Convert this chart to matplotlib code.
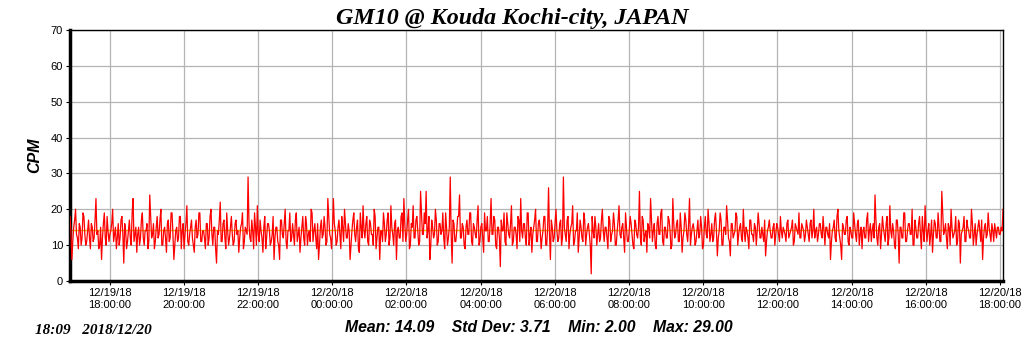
import pandas as pd
import numpy as np
import matplotlib
matplotlib.use("Agg")
import matplotlib.pyplot as plt

# CPM readings: main samples every 3 minutes from 16:56 on 12/19/18
cpm = [
    18, 6, 15, 20, 12, 16, 10, 19, 13, 11, 17, 9, 15, 12, 23, 14, 10, 6, 16, 12, 18, 11, 14, 20,
    13, 9, 16, 12, 18, 5, 14, 11, 17, 10, 23, 13, 8, 15, 12, 19, 10, 14, 9, 24, 12, 16, 11, 18,
    13, 20, 10, 15, 8, 17, 12, 19, 6, 14, 11, 18, 9, 16, 13, 21, 10, 15, 12, 8, 17, 13, 19, 11,
    14, 9, 16, 12, 20, 10, 15, 5, 13, 22, 11, 17, 9, 14, 12, 18, 10, 16, 13, 8, 15, 19, 11, 14,
    29, 12, 17, 9, 15, 21, 11, 14, 8, 18, 12, 16, 10, 13, 6, 15, 11, 6, 17, 12, 20, 9, 14, 11,
    16, 10, 19, 13, 8, 15, 12, 18, 10, 14, 20, 11, 16, 9, 6, 15, 12, 18, 10, 23, 13, 9, 23, 14,
    11, 17, 9, 15, 20, 12, 16, 6, 14, 19, 11, 17, 8, 15, 21, 12, 18, 10, 16, 13, 20, 9, 15, 6,
    14, 19, 11, 17, 10, 21, 13, 16, 6, 15, 12, 19, 23, 11, 17, 9, 16, 21, 12, 18, 10, 25, 13, 19,
    25, 14, 6, 17, 12, 20, 10, 16, 13, 19, 9, 15, 12, 29, 5, 16, 11, 18, 24, 12, 15, 9, 17, 13,
    19, 10, 15, 12, 21, 11, 16, 8, 14, 18, 11, 23, 13, 17, 9, 15, 4, 14, 19, 10, 16, 12, 21, 11,
    15, 9, 17, 23, 12, 16, 10, 19, 13, 8, 15, 20, 11, 17, 9, 14, 18, 10, 26, 6, 15, 12, 20, 11,
    16, 10, 29, 13, 17, 9, 15, 21, 11, 14, 8, 17, 12, 19, 10, 15, 13, 2, 14, 18, 10, 16, 12, 20,
    11, 15, 9, 17, 13, 19, 10, 14, 21, 12, 16, 8, 15, 11, 18, 13, 9, 16, 12, 25, 10, 17, 13, 8,
    15, 23, 11, 16, 9, 18, 13, 20, 10, 15, 12, 17, 9, 23, 12, 16, 11, 19, 8, 14, 17, 11, 23, 13,
    16, 10, 14, 12, 18, 9, 15, 13, 20, 11, 16, 12, 19, 7, 14, 17, 10, 15, 21, 12, 7, 16, 13, 19,
    10, 15, 12, 20, 11, 14, 9, 17, 13, 16, 10, 19, 12, 15, 11, 7, 14, 17, 12, 15, 10, 16, 13, 18,
    12, 14, 11, 17, 13, 15, 10, 16, 14, 19, 12, 15, 11, 17, 13, 16, 12, 20, 14, 11, 16, 13, 18, 10,
    15, 12, 6, 14, 17, 11, 20, 12, 6, 15, 13, 18, 10, 14, 12, 16, 11, 17, 13, 9, 15, 12, 19, 14,
    11, 16, 24, 12, 15, 9, 18, 13, 16, 10, 21, 12, 14, 9, 17, 5, 15, 12, 19, 11, 16, 13, 20, 10,
    15, 12, 18, 9, 14, 21, 11, 16, 13, 8, 17, 12, 19, 11, 25, 13, 16, 9, 15, 20, 12, 14, 10, 17,
    5, 14, 18, 11, 15, 12, 20, 10, 16, 13, 17, 11, 6, 15, 12, 19, 13, 16, 11, 14, 15, 13, 15, 20,
]
# in-between samples (1.5 minutes after each main sample)
cpm_mid = [
    14, 11, 17, 13, 9, 15, 12, 18, 10, 14, 12, 16, 11, 17, 13, 9, 15, 12, 19, 10, 14, 13, 16, 11,
    15, 12, 10, 17, 13, 16, 9, 14, 12, 19, 11, 15, 13, 10, 17, 12, 14, 16, 11, 18, 13, 9, 15, 12,
    17, 10, 14, 12, 16, 11, 19, 13, 10, 15, 12, 18, 14, 9, 16, 11, 13, 17, 10, 15, 12, 19, 11, 14,
    12, 16, 10, 18, 13, 15, 9, 14, 17, 11, 16, 12, 19, 10, 15, 13, 11, 17, 14, 12, 16, 9, 15, 13,
    16, 11, 14, 19, 10, 13, 17, 12, 15, 9, 16, 14, 11, 18, 12, 15, 10, 17, 13, 16, 11, 14, 19, 12,
    13, 17, 11, 15, 12, 18, 10, 16, 13, 11, 19, 14, 12, 16, 10, 17, 13, 15, 11, 18, 12, 14, 16, 10,
    15, 13, 18, 11, 16, 12, 14, 10, 17, 13, 15, 9, 19, 12, 14, 16, 11, 17, 13, 10, 18, 12, 15, 14,
    11, 16, 13, 19, 12, 15, 10, 17, 14, 12, 18, 11, 16, 13, 20, 10, 15, 12, 17, 14, 11, 19, 13, 16,
    12, 18, 10, 15, 13, 17, 11, 16, 14, 12, 19, 10, 15, 13, 17, 11, 14, 18, 12, 16, 10, 15, 13, 19,
    11, 16, 13, 17, 10, 15, 12, 19, 14, 11, 16, 13, 18, 10, 15, 12, 17, 14, 11, 19, 13, 16, 10, 15,
    13, 18, 11, 14, 16, 12, 19, 10, 15, 13, 17, 11, 16, 14, 12, 18, 10, 15, 13, 17, 11, 16, 14, 12,
    17, 12, 15, 11, 18, 13, 16, 10, 14, 19, 12, 15, 11, 17, 13, 16, 10, 18, 12, 15, 13, 11, 17, 14,
    15, 12, 18, 11, 14, 16, 10, 17, 13, 15, 12, 19, 11, 14, 16, 10, 17, 13, 15, 12, 18, 11, 14, 16,
    12, 17, 14, 10, 16, 13, 19, 11, 15, 12, 18, 14, 10, 16, 13, 17, 11, 15, 12, 19, 13, 16, 10, 15,
    14, 11, 17, 13, 15, 10, 18, 12, 16, 13, 11, 17, 14, 12, 19, 10, 15, 13, 17, 11, 16, 12, 14, 18,
    13, 16, 11, 14, 15, 12, 17, 13, 11, 15, 14, 16, 12, 13, 17, 11, 15, 14, 12, 16, 13, 15, 11, 14,
    15, 13, 16, 12, 14, 17, 11, 15, 13, 12, 16, 14, 13, 15, 11, 17, 14, 12, 15, 13, 16, 12, 14, 15,
    13, 16, 11, 15, 12, 18, 14, 10, 16, 13, 17, 11, 15, 12, 19, 13, 16, 10, 15, 14, 12, 17, 11, 16,
    14, 12, 17, 10, 16, 13, 15, 11, 18, 12, 14, 16, 10, 17, 13, 15, 12, 19, 11, 14, 16, 13, 10, 17,
    12, 16, 13, 18, 11, 15, 14, 10, 17, 13, 16, 12, 15, 11, 19, 14, 12, 16, 10, 15, 13, 18, 11, 16,
    13, 15, 11, 17, 14, 12, 16, 13, 10, 15, 14, 17, 12, 16, 13, 15, 11, 14, 16, 12, 15, 13, 14,
]
mean_cpm = 14.09

values = []
for i, v in enumerate(cpm):
    values.append(v)
    if i < len(cpm_mid):
        values.append(cpm_mid[i])
times = pd.date_range("2018-12-19 16:56", periods=len(values), freq="90s")

tick_times = pd.date_range("2018-12-19 18:00", "2018-12-20 18:00", freq="2h")
tick_labels = [t.strftime("%m/%d/%y\n%H:%M:%S") for t in tick_times]

fig = plt.figure(figsize=(10.24, 3.51), dpi=100)
ax = fig.add_axes([70 / 1024, 70 / 351, 933 / 1024, 251 / 351])

ax.axhline(mean_cpm, color="#e8c000", lw=1, zorder=2)
ax.plot(times, values, color="red", lw=0.9, zorder=3)

ax.set_xlim(pd.Timestamp("2018-12-19 16:56"), pd.Timestamp("2018-12-20 18:05"))
ax.set_ylim(0, 70)
ax.set_yticks(range(0, 71, 10))
ax.set_xticks(tick_times)
ax.set_xticklabels(tick_labels)
ax.grid(True, color="#b4b4b4", lw=0.9)
ax.set_axisbelow(True)

for side in ["top", "right"]:
    ax.spines[side].set_linewidth(1.0)
for side in ["left", "bottom"]:
    ax.spines[side].set_linewidth(2.5)
ax.tick_params(axis="both", labelsize=8, length=3, width=0.8, pad=2)
for lbl in ax.get_xticklabels() + ax.get_yticklabels():
    lbl.set_family("Liberation Sans")

ax.set_ylabel("CPM", fontsize=11.5, fontweight="bold", fontstyle="italic",
              family="Liberation Sans", labelpad=6)

fig.text(0.5, 0.946, "GM10 @ Kouda Kochi-city, JAPAN", ha="center", va="center",
         fontsize=17.3, fontweight="bold", fontstyle="italic", family="Liberation Serif")
fig.text(35 / 1024, 1 - 331 / 351, "18:09   2018/12/20", ha="left", va="center",
         fontsize=11, fontweight="bold", fontstyle="italic", family="Liberation Serif")
fig.text(345 / 1024, 1 - 327 / 351, "Mean: 14.09    Std Dev: 3.71    Min: 2.00    Max: 29.00",
         ha="left", va="center", fontsize=11.3, fontweight="bold", fontstyle="italic",
         family="Liberation Sans")

fig.savefig("out.png", dpi=100)
